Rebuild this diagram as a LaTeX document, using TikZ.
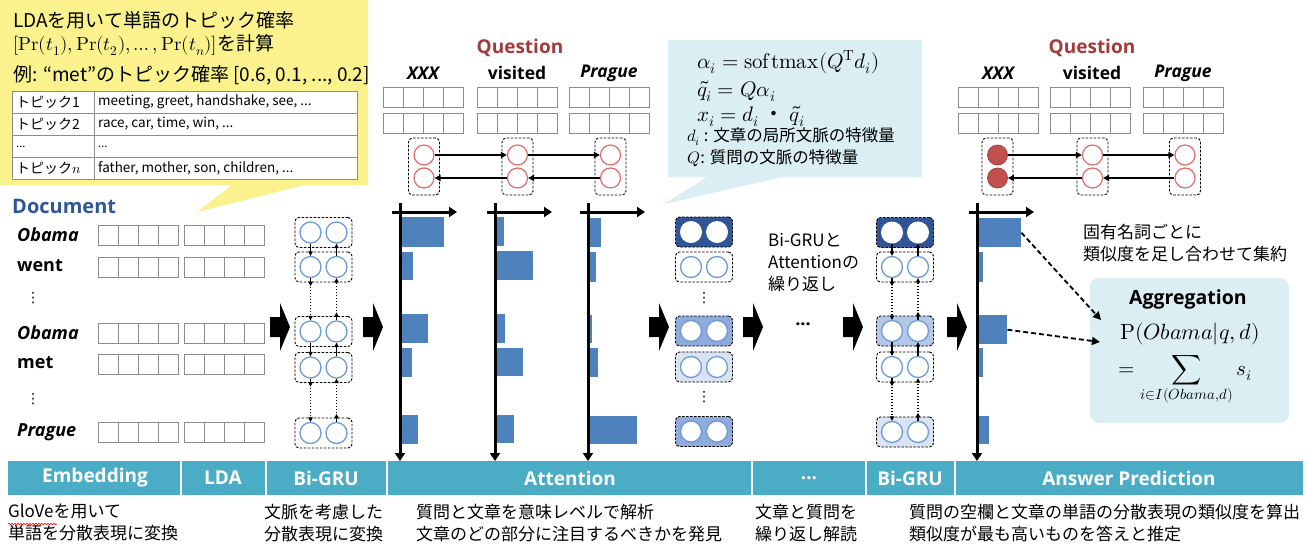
\documentclass[tikz,border=0pt]{standalone}
\usepackage{fontspec}
\usepackage{unicode-math}
\setmainfont{Noto Sans CJK JP}
\newfontfamily\latf{Open Sans}
\newfontfamily\dejavu{DejaVu Sans}
\usetikzlibrary{arrows.meta,decorations.pathmorphing}
\definecolor{yel}{HTML}{FBF28E}
\definecolor{callblue}{HTML}{DAEEF3}
\definecolor{barc}{HTML}{4F81BD}
\definecolor{dkblue}{HTML}{2F5597}
\definecolor{midblue}{HTML}{8FAADC}
\definecolor{lmblue}{HTML}{B4C7E7}
\definecolor{ltblue}{HTML}{DAE3F3}
\definecolor{cblue}{HTML}{6C9BD6}
\definecolor{qred}{HTML}{A33A3A}
\definecolor{cred}{HTML}{E06C6C}
\definecolor{fred}{HTML}{C0504D}
\definecolor{barteal}{HTML}{4BACC6}
\definecolor{docblue}{HTML}{2F5597}
\definecolor{cellgray}{HTML}{8C8C8C}
\newcommand\fsz[1]{\fontsize{#1pt}{1.3\dimexpr#1pt\relax}\selectfont}
\newcommand\cellrow[2]{\foreach \k in {0,...,3}{\draw[cellst] ({#1+20*\k},#2) rectangle ++(20,20);}}
\newcommand\grubox[5]{%
  \node[grub,fill=#4] (#1) at (#2,#3) {};
  \node[#5] (#1l) at ({#2-13},#3) {};
  \node[#5] (#1r) at ({#2+13},#3) {};}
\newcommand\qubox[4]{%
  \node[qb] (#1) at (#2,#3) {};
  \node[#4] (#1a) at (#2,{#3-11.5}) {};
  \node[#4] (#1b) at (#2,{#3+11.5}) {};}
\newcommand\solidconn[2]{\draw[garr] (#1l) -- (#2l); \draw[garr] (#2r) -- (#1r);}
\newcommand\dotconn[2]{%
  \draw[garr,dotline] (#1l) -- (#2l); \draw[garr] (#1l.south) -- ++(0,8);
  \draw[garr,dotline] (#2r) -- (#1r); \draw[garr] (#2r.north) -- ++(0,-8);}
\newcommand\blockarrow[2]{\fill (#1,{#2-10}) -- ++(10,0) -- ++(0,-14) -- ++(10,24) -- ++(-10,24) -- ++(0,-14) -- ++(-10,0) -- cycle;}
\newcommand\chartaxes[1]{\draw[axis] (#1,203) -- (#1,461); \draw[axis] ({#1-8},212) -- ({#1+57},212);}
\begin{document}
\begin{tikzpicture}[x=1pt,y=-1pt,
  cellst/.style={draw=cellgray,line width=0.8pt},
  grub/.style={draw,dash pattern=on 2.5pt off 1.5pt,rounded corners=4pt,minimum width=57pt,minimum height=30pt,inner sep=0,line width=0.9pt},
  bc/.style={circle,draw=cblue,line width=1.3pt,fill=white,minimum size=21pt,inner sep=0},
  wc/.style={circle,fill=white,minimum size=22pt,inner sep=0},
  qb/.style={draw,dash pattern=on 2.5pt off 1.5pt,rounded corners=4pt,minimum width=31pt,minimum height=57pt,inner sep=0,line width=0.9pt},
  rc/.style={circle,draw=cred,line width=1.2pt,fill=white,minimum size=20pt,inner sep=0},
  rcf/.style={circle,fill=fred,draw=fred!85!black,line width=0.8pt,minimum size=20pt,inner sep=0},
  qarr/.style={line width=1.5pt,-{Triangle[length=6pt,width=6pt]}},
  garr/.style={line width=1.1pt,-{Triangle[length=4.5pt,width=4.5pt]}},
  dotline/.style={dash pattern=on 1.2pt off 1.8pt},
  axis/.style={line width=3pt,-{Triangle[length=8pt,width=10pt]}},
  dasharr/.style={line width=1.8pt,dash pattern=on 5pt off 3pt,-{Triangle[length=8pt,width=8pt]}},
  lbl/.style={inner sep=0,anchor=west},
  vd/.style={inner sep=0,font=\dejavu\fsz{14}},
  word/.style={inner sep=0,anchor=west,font=\latf\bfseries\fsz{18}},
  wordi/.style={inner sep=0,anchor=west,font=\latf\bfseries\itshape\fsz{18}},
  qword/.style={inner sep=0,font=\latf\bfseries\fsz{17.5}},
  qwordi/.style={inner sep=0,font=\latf\bfseries\itshape\fsz{17.5}},
  qtitle/.style={inner sep=0,font=\latf\bfseries\fsz{19},text=qred},
  barlbl/.style={inner sep=0,font=\latf\bfseries\fsz{19},text=white},
  desc/.style={inner sep=0,anchor=north west,align=left,font=\fsz{17}},
  barn/.style={fill=barc,inner sep=0,anchor=north west}]
\useasboundingbox (0,0) rectangle (1315,547);

% ---------------- callouts ----------------
\fill[yel] (0,0) -- (368,0) -- (368,185) -- (305,185) -- (197,212) -- (232,185) -- (0,185) -- cycle;
\fill[callblue] (668,40) -- (922,40) -- (922,177) -- (783,177) -- (664,204) -- (707,177) -- (668,177) -- cycle;

\node[lbl,font=\fsz{19}] (y1) at (13,20) {LDAを用いて単語のトピック確率};
\node[lbl,font=\fsz{19}] (y2) at (13,45) {$[\symup{Pr}(t_1),\symup{Pr}(t_2),\ldots,\symup{Pr}(t_n)]$を計算};
\node[lbl,font=\fsz{19}] (y3) at (13,75) {例: “met”のトピック確率 [0.6, 0.1, ..., 0.2]};
\draw[fill=white,draw=cellgray,line width=0.8pt] (12,91) rectangle (357,179);
\foreach \yy in {113,135,157} \draw[cellgray,line width=0.8pt] (12,\yy) -- (357,\yy);
\draw[cellgray,line width=0.8pt] (94,91) -- (94,179);
\node[lbl,font=\fsz{14}] (t1a) at (16,102) {トピック1};
\node[lbl,font=\fsz{13.5}] (t1b) at (98,102) {meeting, greet, handshake, see, ...};
\node[lbl,font=\fsz{14}] (t2a) at (16,124) {トピック2};
\node[lbl,font=\fsz{13.5}] (t2b) at (98,124) {race, car, time, win, ...};
\node[lbl,font=\fsz{11}] (t3a) at (16,147) {...};
\node[lbl,font=\fsz{11}] (t3b) at (98,147) {...};
\node[lbl,font=\fsz{14}] (t4a) at (16,168) {トピック$n$};
\node[lbl,font=\fsz{13.5}] (t4b) at (98,168) {father, mother, son, children, ...};

\node[lbl,font=\fsz{21}] (m1) at (697,62) {$\alpha_i = \symup{softmax}(Q^{\symup{T}} d_i)$};
\node[lbl,font=\fsz{21}] (m2) at (697,91) {$\tilde{q}_i = Q\alpha_i$};
\node[lbl,font=\fsz{21}] (m3) at (697,116) {$x_i = d_i$ ・ $\tilde{q}_i$};
\node[lbl,font=\fsz{16.5}] (m4) at (687,137) {$d_i$ : 文章の局所文脈の特徴量};
\node[lbl,font=\fsz{16.5}] (m5) at (687,158) {$Q$: 質問の文脈の特徴量};

% ---------------- document ----------------
\node[lbl,font=\latf\bfseries\fsz{20},text=docblue] (doc) at (12,206) {Document};
\node[wordi] (w1) at (17,235) {Obama};
\node[word] (w2) at (17,266) {went};
\node[vd] (d1) at (33,298) {⋮};
\node[wordi] (w3) at (17,333) {Obama};
\node[word] (w4) at (17,363) {met};
\node[vd] (d2) at (33,399) {⋮};
\node[wordi] (w5) at (17,432) {Prague};
\foreach \yy in {225,257,323,354,422}{\cellrow{98}{\yy}\cellrow{184}{\yy}}

% ---------------- block arrows ----------------
\blockarrow{270}{327}
\blockarrow{363}{327}
\blockarrow{649}{327}
\blockarrow{743}{327}
\blockarrow{843}{327}
\blockarrow{947}{327}
\node[inner sep=0,font=\latf\bfseries\fsz{18}] (dots) at (803,324) {...};

% ---------------- Bi-GRU column 1 ----------------
\grubox{a1}{323.5}{232.5}{white}{bc}
\grubox{a2}{323.5}{267}{white}{bc}
\grubox{a3}{323.5}{331.5}{white}{bc}
\grubox{a4}{323.5}{367.5}{white}{bc}
\grubox{a5}{323.5}{433}{white}{bc}
\solidconn{a1}{a2}
\dotconn{a2}{a3}
\solidconn{a3}{a4}
\dotconn{a4}{a5}

% ---------------- Bi-GRU column 2 (attention output) ----------------
\grubox{b1}{704}{232}{dkblue}{wc}
\grubox{b2}{704}{267}{white}{bc}
\node[vd] (d3) at (704,298) {⋮};
\grubox{b3}{704}{331}{midblue}{bc}
\grubox{b4}{704}{367}{ltblue}{bc}
\node[vd] (d4) at (704,397) {⋮};
\grubox{b5}{704}{431.5}{midblue}{bc}

% ---------------- Bi-GRU column 3 ----------------
\grubox{c1}{905}{232.5}{dkblue}{wc}
\grubox{c2}{905}{267}{white}{bc}
\grubox{c3}{905}{331}{lmblue}{bc}
\grubox{c4}{905}{367}{white}{bc}
\grubox{c5}{905}{432}{ltblue}{bc}
\solidconn{c1}{c2}
\dotconn{c2}{c3}
\solidconn{c3}{c4}
\dotconn{c4}{c5}

\node[desc] (rep) at (768,233) {Bi-GRUと\\Attentionの\\繰り返し};

% ---------------- questions ----------------
\node[qtitle] (qt1) at (520,48) {Question};
\node[qwordi] (qx1) at (423,73) {XXX};
\node[qword] (qv1) at (517,73) {visited};
\node[qwordi] (qp1) at (609,73) {Prague};
\foreach \xx in {383,477,569}{\cellrow{\xx}{87}\cellrow{\xx}{113}}
\qubox{q1}{424}{166.5}{rc}
\qubox{q2}{517.5}{166.5}{rc}
\qubox{q3}{610.5}{166.5}{rc}
\draw[qarr] (q1a) -- (q2a);
\draw[qarr] (q2a) -- (q3a);
\draw[qarr] (q3b) -- (q2b);
\draw[qarr] (q2b) -- (q1b);

\node[qtitle] (qt2) at (1092,48) {Question};
\node[qwordi] (qx2) at (998,73) {XXX};
\node[qword] (qv2) at (1092,73) {visited};
\node[qwordi] (qp2) at (1183,73) {Prague};
\foreach \xx in {958,1050,1143}{\cellrow{\xx}{87}\cellrow{\xx}{113}}
\qubox{r1}{997.5}{166.5}{rcf}
\qubox{r2}{1092.5}{166.5}{rc}
\qubox{r3}{1185}{166.5}{rc}
\draw[qarr] (r1a) -- (r2a);
\draw[qarr] (r2a) -- (r3a);
\draw[qarr] (r3b) -- (r2b);
\draw[qarr] (r2b) -- (r1b);

% ---------------- attention charts ----------------
\fill[barc] (402,217) rectangle (444,247);
\fill[barc] (402,252) rectangle (413,280);
\fill[barc] (402,314) rectangle (428,343);
\fill[barc] (402,348) rectangle (412,377);
\fill[barc] (402,415) rectangle (418,444);
\fill[barc] (497,217) rectangle (504,246);
\fill[barc] (497,251) rectangle (533,280);
\fill[barc] (497,314) rectangle (505,343);
\fill[barc] (497,348) rectangle (523,376);
\fill[barc] (497,415) rectangle (514,443);
\fill[barc] (590,218) rectangle (601,247);
\fill[barc] (590,252) rectangle (596,282);
\fill[barc] (590,315) rectangle (592,343);
\fill[barc] (590,348) rectangle (598,377);
\fill[barc] (590,416) rectangle (637,444);
\node[barn,minimum width=42pt,minimum height=29pt] (p1) at (979,218) {};
\node[barn,minimum width=4pt,minimum height=30pt] (p2) at (979,252) {};
\node[barn,minimum width=28pt,minimum height=29pt] (p3) at (979,315) {};
\node[barn,minimum width=4pt,minimum height=29pt] (p4) at (979,348) {};
\node[barn,minimum width=10pt,minimum height=28pt] (p5) at (979,416) {};

% ---------------- aggregation ----------------
\node[desc] (note) at (1083,224) {固有名詞ごとに\\類似度を足し合わせて集約};
\node[fill=callblue,rounded corners=9pt,minimum width=199pt,minimum height=145pt,inner sep=0] (agg) at (1189.5,350.5) {};
\node[inner sep=0,font=\latf\bfseries\fsz{19.5}] (aggt) at (1188,299) {Aggregation};
\node[inner sep=0,font=\fsz{22}] (aggp) at (1190,334) {$\symup{P}(Obama|q,d)$};
\node[inner sep=0,font=\fsz{21},anchor=north] (aggs) at (1185,355) {$=\displaystyle\sum_{i\in I(Obama,d)} s_i$};
\coordinate (in1) at (1101,320);
\coordinate (in2) at (1100,342);
\draw[dasharr] (p1.east) -- (in1);
\draw[dasharr] (p3.east) -- (in2);

% ---------------- bottom bar ----------------
\fill[barteal] (8,461) rectangle (1303,495);
\foreach \xx in {181,266,387,752,866,955} \draw[white,line width=1.5pt] (\xx,461) -- (\xx,495);
\chartaxes{400}
\chartaxes{495}
\chartaxes{588}
\chartaxes{977}
\node[barlbl] (s1) at (95,478) {Embedding};
\node[barlbl] (s2) at (223,478) {LDA};
\node[barlbl] (s3) at (326,478) {Bi-GRU};
\node[barlbl] (s4) at (570,478) {Attention};
\node[barlbl] (s5) at (809,478) {...};
\node[barlbl] (s6) at (910,478) {Bi-GRU};
\node[barlbl] (s7) at (1129,478) {Answer Prediction};

\node[desc] (e1) at (8,504) {GloVeを用いて\\単語を分散表現に変換};
\draw[red,line width=0.6pt,decorate,decoration={snake,amplitude=0.8pt,segment length=3pt}] (8,524) -- (57,524);
\node[desc] (e2) at (264,504) {文脈を考慮した\\分散表現に変換};
\node[desc] (e3) at (416,504) {質問と文章を意味レベルで解析\\文章のどの部分に注目するべきかを発見};
\node[desc] (e4) at (755,504) {文章と質問を\\繰り返し解読};
\node[desc] (e5) at (909,504) {質問の空欄と文章の単語の分散表現の類似度を算出\\類似度が最も高いものを答えと推定};
\end{tikzpicture}
\end{document}
